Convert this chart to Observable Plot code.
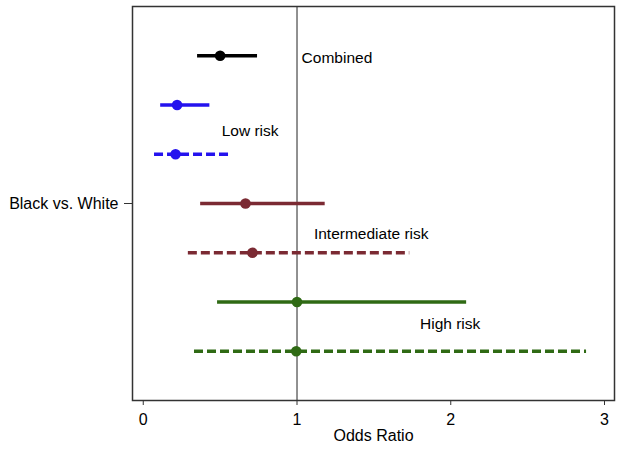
<!DOCTYPE html>
<html>
<head>
<meta charset="utf-8">
<script src="https://cdn.jsdelivr.net/npm/d3@7"></script>
<script src="https://cdn.jsdelivr.net/npm/@observablehq/plot@0.6"></script>
<style>
  html, body { margin: 0; padding: 0; background: #fff; }
  svg { font-family: "Liberation Sans", Arial, sans-serif; }
</style>
</head>
<body>
<div id="chart"></div>
<script>
// Estimates (odds ratio with 95% CI), one row per estimate, top to bottom
const groups = ["Combined", "Low risk", "Low risk", "Intermediate risk", "Intermediate risk", "High risk", "High risk"];
const lineStyles = ["solid", "solid", "dashed", "solid", "dashed", "solid", "dashed"];
const oddsRatios = [0.50, 0.22, 0.21, 0.665, 0.71, 1.00, 0.995];
const lowerCI = [0.35, 0.11, 0.07, 0.37, 0.29, 0.48, 0.33];
const upperCI = [0.74, 0.43, 0.555, 1.18, 1.73, 2.10, 2.88];

const groupNames = ["Combined", "Low risk", "Intermediate risk", "High risk"];
const groupColors = ["#000000", "#2412ee", "#7b2a33", "#2f6a14"];

// Group labels placed in data coordinates (odds ratio, row)
const labelText = ["Combined", "Low risk", "Intermediate risk", "High risk"];
const labelX = [1.03, 0.51, 1.11, 1.80];
const labelRow = [0.04, 1.52, 3.61, 5.44];

const xTicks = [0, 1, 2, 3];
const yTickRow = [3];
const yTickLabel = ["Black vs. White"];

const rows = groups.map((g, i) => ({
  row: i, group: g, style: lineStyles[i], or: oddsRatios[i], lo: lowerCI[i], hi: upperCI[i]
}));
const labels = labelText.map((t, i) => ({text: t, x: labelX[i], row: labelRow[i]}));

const chart = Plot.plot({
  width: 624,
  height: 451,
  marginLeft: 132,
  marginRight: 10,
  marginTop: 6,
  marginBottom: 51,
  style: {fontFamily: "Liberation Sans, Arial, sans-serif", fontSize: "16px", color: "#000", background: "#fff"},
  x: {domain: [-0.07, 3.065]},
  y: {domain: [-1, 7], range: [6, 400]},
  color: {domain: groupNames, range: groupColors},
  marks: [
    Plot.ruleX([1], {stroke: "#555", strokeWidth: 1.3}),
    Plot.link(rows.filter(d => d.style === "solid"), {
      x1: "lo", x2: "hi", y1: "row", y2: "row", stroke: "group", strokeWidth: 3.6
    }),
    Plot.link(rows.filter(d => d.style === "dashed"), {
      x1: "lo", x2: "hi", y1: "row", y2: "row", stroke: "group", strokeWidth: 3.6, strokeDasharray: "9,4"
    }),
    Plot.dot(rows, {x: "or", y: "row", fill: "group", r: 5.3}),
    Plot.text(labels, {x: "x", y: "row", text: "text", textAnchor: "start", fontSize: 15.5, fill: "#000"}),
    Plot.frame({stroke: "#333", strokeWidth: 1.5}),
    Plot.axisX({
      ticks: xTicks, tickFormat: (d) => String(d), tickSize: 5, tickPadding: 8, fontSize: 16, stroke: "#333",
      label: "Odds Ratio", labelAnchor: "center", labelOffset: 40, labelArrow: false
    }),
    Plot.axisY({
      ticks: yTickRow, tickSize: 8, tickPadding: 6, fontSize: 16, stroke: "#333",
      tickFormat: (d) => yTickLabel[yTickRow.indexOf(d)], label: null
    })
  ]
});
document.getElementById("chart").appendChild(chart);
</script>
</body>
</html>
